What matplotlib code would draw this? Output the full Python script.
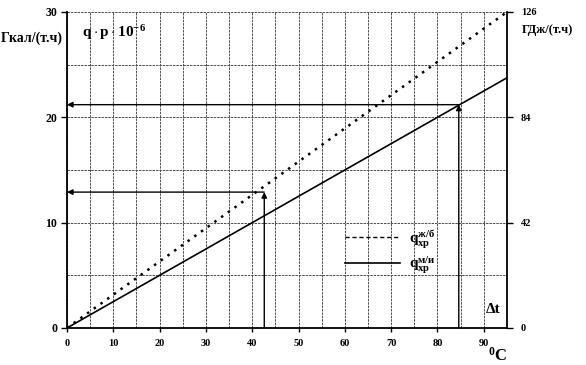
import matplotlib
matplotlib.use("Agg")
import matplotlib.pyplot as plt
from matplotlib.lines import Line2D

plt.rcParams["font.family"] = ["Liberation Serif", "DejaVu Serif"]
plt.rcParams["font.weight"] = "bold"
plt.rcParams["mathtext.fontset"] = "custom"
plt.rcParams["mathtext.rm"] = "Liberation Serif:bold"
plt.rcParams["mathtext.it"] = "Liberation Serif:bold"
plt.rcParams["mathtext.bf"] = "Liberation Serif:bold"

# данные
dt = [0, 95]                 # Δt, °C
q_jb = [0, 30.0]             # ж/б, Гкал/(т.ч)
q_mi = [0, 23.75]            # м/и, Гкал/(т.ч)

# примеры отсчёта (стрелки)
dt_read = [42.6, 84.6]
q_read = [12.9, 21.2]

x_ticks = [0, 10, 20, 30, 40, 50, 60, 70, 80, 90]
y_ticks = [0, 10, 20, 30]
y2_ticks = [0, 42, 84, 126]

fig = plt.figure(figsize=(5.86, 3.65), dpi=100)
ax = fig.add_axes([0.1143, 0.1014, 0.7508, 0.8658])

ax.set_xlim(0, 95)
ax.set_ylim(0, 30)

# сетка через 5
for v in range(0, 96, 5):
    ax.axvline(v, color="0.3", lw=0.7, ls=(0, (2.5, 1)), zorder=1)
for v in range(5, 31, 5):
    ax.axhline(v, color="0.3", lw=0.7, ls=(0, (2.5, 1)), zorder=1)

ax.plot(dt, q_jb, color="black", lw=1.8, ls=(0, (1.0, 2.3)), zorder=3)
ax.plot(dt, q_mi, color="black", lw=1.2, zorder=3)

arrow = dict(arrowstyle="-|>", color="black", lw=1.0, mutation_scale=8, shrinkA=0, shrinkB=0)
for x, q in zip(dt_read, q_read):
    ax.annotate("", xy=(0, q), xytext=(x, q), arrowprops=arrow, zorder=4)
    ax.annotate("", xy=(x, q), xytext=(x, 0), arrowprops=arrow, zorder=4)

for s in ["left", "bottom", "right"]:
    ax.spines[s].set_linewidth(1.3)
ax.spines["top"].set_visible(False)

ax.set_xticks(x_ticks)
ax.set_yticks(y_ticks)
ax.tick_params(axis="x", labelsize=7.5, length=3, width=1, pad=5)
ax.tick_params(axis="y", labelsize=8.5, length=4, width=1, pad=3)

ax2 = ax.twinx()
ax2.set_ylim(0, 126)
ax2.set_yticks(y2_ticks)
ax2.tick_params(axis="y", labelsize=7.5, length=4, width=1, pad=6)
for s in ["left", "bottom", "right", "top"]:
    ax2.spines[s].set_visible(False)

handles = [
    Line2D([], [], color="black", lw=1.0, ls=(0, (3, 2))),
    Line2D([], [], color="black", lw=1.2),
]
labels = [r"$\mathbf{q_{хр}^{ж/б}}$", r"$\mathbf{q_{хр}^{м/и}}$"]
ax.legend(handles, labels, loc="upper left", bbox_to_anchor=(0.6, 0.36),
          frameon=False, fontsize=11, handlelength=3.6, handletextpad=0.6,
          labelspacing=0.3)

fig.text(32 / 586, 1 - 38 / 365, "Гкал/(т.ч)", fontsize=10, ha="center", va="center")
ax.text(3.2, 28.0, r"$\mathbf{q\cdot p\cdot 10^{-6}}$", fontsize=11, ha="left", va="center")
fig.text(547 / 586, 1 - 30 / 365, "ГДж/(т.ч)", fontsize=9, ha="center", va="center")
ax.text(92, 1.8, "Δt", fontsize=11, ha="center", va="center")
fig.text(497 / 586, 1 - 356 / 365, "$\\mathbf{^0C}$", fontsize=12, ha="center", va="center")

fig.savefig("out.png", dpi=100)
